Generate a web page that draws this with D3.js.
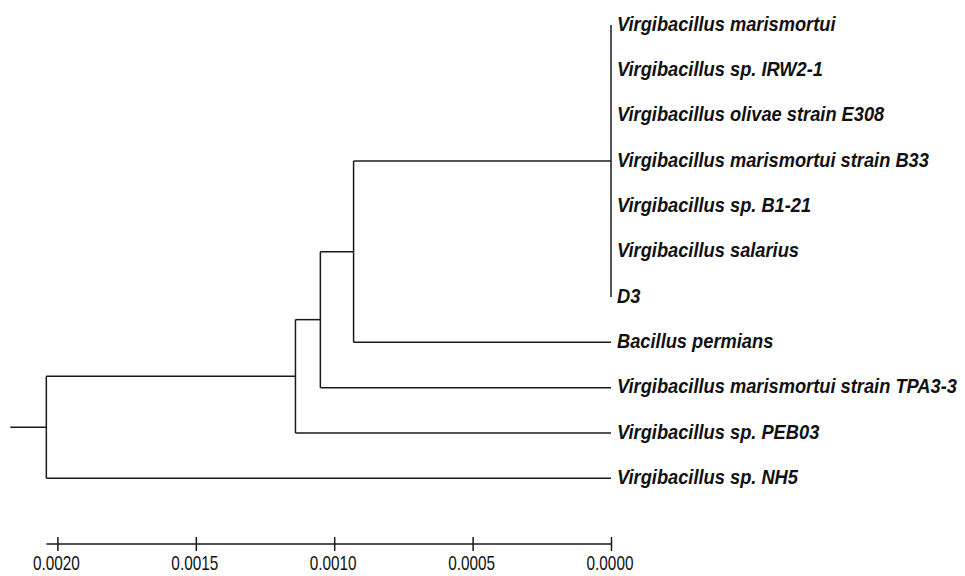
<!DOCTYPE html>
<html>
<head>
<meta charset="utf-8">
<script src="https://cdn.jsdelivr.net/npm/d3@7"></script>
<style>
  html, body { margin: 0; padding: 0; background: #fff; }
  svg { display: block; }
  .leaf { font-family: "Liberation Sans Narrow", "Arial Narrow", "Liberation Sans", sans-serif; font-weight: bold; font-style: italic; font-size: 21px; fill: #111; }
  .tick text { font-family: "Liberation Sans Narrow", "Arial Narrow", "Liberation Sans", sans-serif; font-size: 21px; fill: #111; }
</style>
</head>
<body>
<svg id="chart" width="965" height="576"></svg>
<script>
// ---- data ----
const leafNames = [
  "Virgibacillus marismortui",
  "Virgibacillus sp. IRW2-1",
  "Virgibacillus olivae strain E308",
  "Virgibacillus marismortui strain B33",
  "Virgibacillus sp. B1-21",
  "Virgibacillus salarius",
  "D3",
  "Bacillus permians",
  "Virgibacillus marismortui strain TPA3-3",
  "Virgibacillus sp. PEB03",
  "Virgibacillus sp. NH5"
];
// internal nodes (distance from the tips)
const nodeIds = ["n1", "n2", "n3", "n4", "root"];
const nodeDepths = [0.0, 0.00093, 0.00105, 0.00114, 0.00204];
const nodeChildren = [
  ["Virgibacillus marismortui", "Virgibacillus sp. IRW2-1", "Virgibacillus olivae strain E308",
   "Virgibacillus marismortui strain B33", "Virgibacillus sp. B1-21", "Virgibacillus salarius", "D3"],
  ["n1", "Bacillus permians"],
  ["n2", "Virgibacillus marismortui strain TPA3-3"],
  ["n3", "Virgibacillus sp. PEB03"],
  ["n4", "Virgibacillus sp. NH5"]
];
const rootStub = 0.00013;
const tickValues = [0.0020, 0.0015, 0.0010, 0.0005, 0.0000];

// ---- build hierarchy ----
function build(id) {
  const i = nodeIds.indexOf(id);
  if (i < 0) return { name: id, depth: 0 };
  return { name: id, depth: nodeDepths[i], children: nodeChildren[i].map(build) };
}
const root = d3.hierarchy(build("root"));

const svg = d3.select("#chart");
const x = d3.scaleLinear().domain([0.0020, 0]).range([57.4, 611]);
const y = d3.scalePoint().domain(leafNames).range([25, 478.3]);

root.eachAfter(n => {
  n.px = x(n.data.depth);
  if (!n.children) n.py = y(n.data.name);
  else n.py = (n.children[0].py + n.children[n.children.length - 1].py) / 2;
});

const g = svg.append("g").attr("stroke", "#1a1a1a").attr("stroke-width", 1.5).attr("fill", "none");

g.append("line")
  .attr("x1", x(root.data.depth + rootStub)).attr("x2", root.px)
  .attr("y1", root.py).attr("y2", root.py);

root.each(n => {
  if (!n.children) return;
  const c0 = n.children[0], c1 = n.children[n.children.length - 1];
  g.append("line").attr("x1", n.px).attr("x2", n.px).attr("y1", c0.py).attr("y2", c1.py);
  n.children.forEach(c => {
    if (c.px !== n.px) {
      g.append("line").attr("x1", n.px).attr("x2", c.px).attr("y1", c.py).attr("y2", c.py);
    }
  });
});

// leaf labels (condensed bold italic)
svg.append("g").selectAll("text")
  .data(root.leaves())
  .join("text")
  .attr("class", "leaf")
  .attr("transform", d => `translate(${d.px + 6},${d.py + 5.6}) scale(0.87,1)`)
  .text(d => d.data.name);

// axis
const axis = d3.axisBottom(x)
  .tickValues(tickValues)
  .tickFormat(d3.format(".4f"))
  .tickSize(7)
  .tickSizeOuter(0);
const ag = svg.append("g").attr("transform", "translate(0,544)").call(axis);
ag.select(".domain").remove();
ag.append("line")
  .attr("x1", x(root.data.depth)).attr("x2", x(0))
  .attr("y1", 0).attr("y2", 0)
  .attr("stroke", "#1a1a1a").attr("stroke-width", 1.5);
ag.selectAll(".tick line").attr("y1", -7).attr("y2", 7).attr("stroke", "#1a1a1a").attr("stroke-width", 1.5);
ag.selectAll(".tick text")
  .attr("y", 0).attr("dy", 0)
  .attr("transform", "translate(-1.5,26) scale(0.73,1)");
</script>
</body>
</html>
